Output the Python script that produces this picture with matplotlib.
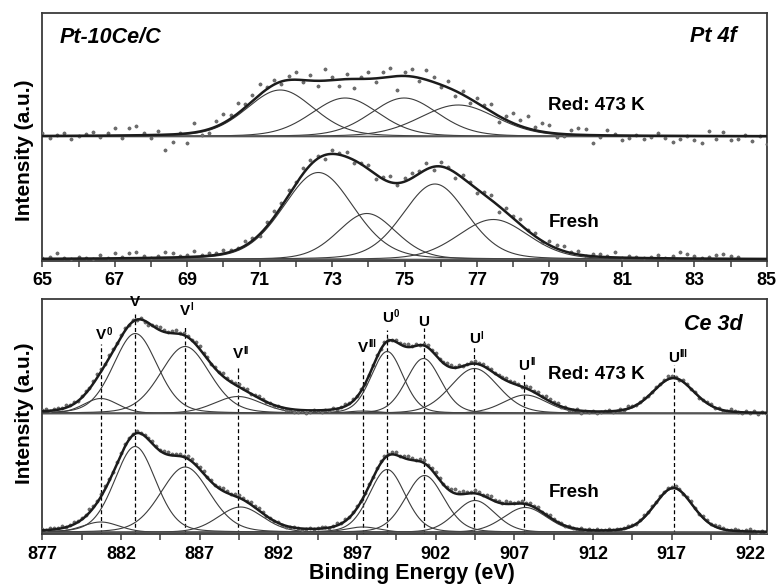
import numpy as np
import matplotlib.pyplot as plt

plt.rcParams['font.family'] = ['Liberation Sans', 'DejaVu Sans']
plt.rcParams['font.weight'] = 'bold'

## Pt 4f fitted components: centre (eV), height (a.u.), FWHM (eV)
pt_red_pos = [71.57, 73.36, 74.99, 76.48]
pt_red_h = [46.5, 38.5, 38.5, 31.5]
pt_red_fwhm = [2.2, 2.2, 2.2, 2.5]

pt_fresh_pos = [72.62, 73.96, 75.84, 77.45]
pt_fresh_h = [87.0, 46.0, 75.5, 40.0]
pt_fresh_fwhm = [2.3, 1.9, 2.1, 2.3]

# measured points, deviation from the fit (a.u.), 0.2 eV steps from 65 eV
pt_red_dev = [3, -2, 1, 3, -3, 0, 2, 4, -1, 3, 8, -3, 7, 9, 2, -3, 4, -15, -8, 1, -10, 9, -4,
              -4, 5, 9, 4, 10, 3, 6, 11, 2, 5,
              -3, 4, 8, -2, 6, -5, 12, 3, -6, 5, -9, 2, 7, -4, 6, 9, -14, 4, 8, -3, 10, 5, -2, 7, -5, 3,
              -4, 5, 2, 8, -6, 4, 10, 6, 12, 3, 9, 8,
              -3, -2, 4, 7, 6, -8, -2, 5, 1, -4, -2, 1, -3, -1, 3, -2, -6, -3, 0, -4, -7, 5, -3, 4, -4,
              -3, 1, -5, 0, -8]
pt_fresh_dev = [1, 2, 6, 1, 0, 2, 1, 0, 3, 0, 5, 1, 5, 6, 2, 0, 2, 6, 4, 1, 2, 6, 1, 3, 2,
                4, 2, 1, 5, 3, -2, 4, 6, 3, 5,
                2, 6, 5, 3, -4, 4, 2, 5, -3, 1, 4, -5, 2, 6, -2, 4, 5, 3, 6, -3, 4, 2, -5, 3,
                1, -4, 3, 5, -6, 4, 2, 6, 1, 3, -1, 4,
                3, 5, 1, 4, 0, 2, 3, 1, 5, 0, 2, 1, 0, 1, 3, 0, 2, 6, 4, 3, 1, 2, 4, 5, 3, 2]

## Ce 3d fitted components
ce_main = ['V', 'V', 'V', 'V', 'V', 'U', 'U', 'U', 'U', 'U']
ce_sup = ['0', '', 'I', 'II', 'III', '0', '', 'I', 'II', 'III']
ce_line_pos = [880.72, 882.91, 886.08, 889.44, 897.37, 898.92, 901.23, 904.47, 907.62, 917.12]

ce_red_pos = [880.72, 882.91, 886.08, 889.44, 897.37, 898.92, 901.23, 904.47, 907.7, 917.12]
ce_red_h = [15, 80, 67, 17, 2.5, 62, 55, 45, 18.5, 35]
ce_red_fwhm = [2.6, 3.3, 3.7, 3.6, 2.5, 2.4, 2.6, 3.6, 3.3, 3.1]

ce_fresh_pos = [880.72, 882.9, 886.08, 889.6, 897.37, 898.92, 901.3, 904.5, 907.7, 917.12]
ce_fresh_h = [10.5, 86, 65.5, 25.5, 5.5, 63, 57, 32, 25, 44]
ce_fresh_fwhm = [2.8, 3.1, 3.7, 3.4, 2.6, 2.7, 2.9, 3.0, 3.3, 2.9]

# measured points, deviation from the fit, 0.25 eV steps from 877 eV
ce_red_dev = [1, 2, 0, 1, 2, 1, 3, 1, 2, 0, 2, 3, 1, 2, 3, 2, 1, 3, 2, 1,
              2, 3, 1, 2, 0, 1, -1, -2, 1, 2, 3, 2, 1, 2, 3, 1, 2, 1, 0, 2,
              3, 1, 2, 0, 2, 1, 3, 2, 1, 2, 3, 1, 2, 0, 1, 2, 1, 0, 1, -1,
              0, -1, -2, -1, -3, -2, -1, -3, -2, 0, -1, -2, 0, -1, 1, 0, 1, 2, 1, 2,
              1, 2, 0, 1, 2, 3, 1, 2, 1, 0, 2, 1, 2, 3, 1, 2, 0, 1, 2, 1,
              2, 0, 1, 3, 2, 1, 2, 0, 1, 2, 3, 1, 2, 1, 2, 0, 1, 2, 3, 1,
              2, 1, 0, 2, 3, 1, 2, 1, 3, 2, 1, 2, 0, 1, -1, 0, 1, -2, 0, -1,
              0, -2, -1, 0, 1, -1, 0, 1, 0, 2, 1, 0, 1, 2, 0, 1, 2, 1, 2, 3,
              2, 1, 0, 2, 1, 0, 1, -1, 0, 1, 2, 0, 1, -1, 0, 2, 1, 0, -1, 1,
              0, 2, -1, 1, 0]
ce_fresh_dev = [1, 0, 2, 1, 1, 2, 0, 1, 2, 1, 2, 1, 3, 2, 1, 2, 3, 2, 1, 2,
                2, 3, 2, 1, 2, 0, 1, 2, 3, 2, 1, 2, 3, 1, 2, 2, 1, 3, 2, 1,
                2, 3, 1, 2, 1, 2, 3, 2, 1, 2, 3, 2, 1, 2, 1, 2, 1, 0, 1, 0,
                1, 0, -1, 0, 1, 0, -1, 0, 1, 0, 1, 2, 1, 0, 1, 2, 1, 2, 1, 2,
                2, 1, 2, 3, 1, 2, 3, 2, 1, 2, 3, 1, 2, 3, 2, 1, 2, 3, 1, 2,
                3, 2, 1, 2, 3, 4, 2, 3, 2, 1, 3, 2, 1, 2, 3, 1, 2, 1, 3, 2,
                1, 2, 3, 1, 2, 1, 2, 0, 1, 2, 1, 0, 1, 0, 1, 0, 0, 1, 0, 1,
                0, 1, 0, 0, 1, 0, 1, 0, 1, 2, 1, 0, 1, 2, 1, 2, 1, 2, 1, 2,
                1, 2, 1, 0, 1, 2, 1, 0, 2, 1, 0, 1, 2, 1, 0, 1, 2, 1, 0, 1,
                2, 1, 0, 1, 0]

# vertical offsets of the stacked spectra
pt_red_base, pt_fresh_base = 124.5, 1.5
ce_red_base, ce_fresh_base = 120.0, 1.0


def peak(x, c, h, w, m=0.2):
    d2 = ((x - c) / w) ** 2
    return h * ((1 - m) * np.exp(-4 * np.log(2) * d2) + m / (1 + 4 * d2))


def draw_spectrum(ax, x, pos, hts, fwhm, base, xd, dev):
    env = np.zeros_like(x)
    for c, h, w in zip(pos, hts, fwhm):
        comp = peak(x, c, h, w)
        env += comp
        ax.plot(x, base + comp, color='#3c3c3c', lw=0.8, zorder=2)
    ax.plot(x, base + np.zeros_like(x), color='#555555', lw=1.2, zorder=2)
    fit_d = np.zeros_like(xd)
    for c, h, w in zip(pos, hts, fwhm):
        fit_d += peak(xd, c, h, w)
    ax.plot(xd, base + fit_d + np.array(dev), 'o', ms=2.3, color='#707070',
            mec='#555555', mew=0.4, zorder=3)
    ax.plot(x, base + env, color='#1c1c1c', lw=1.8, zorder=4)


W, H = 777, 585
fig = plt.figure(figsize=(W / 100, H / 100), dpi=100)


def px_ax(l, t, r, b):
    return fig.add_axes([l / W, 1 - b / H, (r - l) / W, (b - t) / H])


def ftext(x, y, s, **kw):
    fig.text(x / W, 1 - y / H, s, **kw)


ax1 = px_ax(42.3, 13.3, 766.8, 261)
ax2 = px_ax(42.3, 298.5, 766.8, 533.5)

# ---- Pt 4f
x1 = np.linspace(65, 85, 2001)
xd_red = 65 + 0.2 * np.arange(len(pt_red_dev))
xd_fresh = 65 + 0.2 * np.arange(len(pt_fresh_dev))
draw_spectrum(ax1, x1, pt_red_pos, pt_red_h, pt_red_fwhm, pt_red_base, xd_red, pt_red_dev)
draw_spectrum(ax1, x1, pt_fresh_pos, pt_fresh_h, pt_fresh_fwhm, pt_fresh_base, xd_fresh, pt_fresh_dev)
ax1.set_xlim(65, 85)
ax1.set_ylim(0, 247.7)
ax1.set_xticks(np.arange(65, 86, 2))
ax1.set_xticks(np.arange(66, 85, 2), minor=True)

# ---- Ce 3d
x2 = np.linspace(877, 923, 4601)
xd2r = 877 + 0.25 * np.arange(len(ce_red_dev))
xd2f = 877 + 0.25 * np.arange(len(ce_fresh_dev))
draw_spectrum(ax2, x2, ce_red_pos, ce_red_h, ce_red_fwhm, ce_red_base, xd2r, ce_red_dev)
draw_spectrum(ax2, x2, ce_fresh_pos, ce_fresh_h, ce_fresh_fwhm, ce_fresh_base, xd2f, ce_fresh_dev)
ax2.set_xlim(877, 923.05)
ax2.set_ylim(0, 235)
ax2.set_xticks(np.arange(877, 923, 5))
ax2.set_xticks(np.arange(879.5, 923, 5), minor=True)

# dashed markers and labels
line_top = [189.5, 221.5, 206.5, 167.5, 173.5, 203.5, 205.5, 188.5, 161.5, 168.5]
label_base = [194.2, 227.5, 218.5, 175.2, 181.8, 211.8, 207.8, 190.2, 163.5, 171.8]
for e, top, yb, m, s in zip(ce_line_pos, line_top, label_base, ce_main, ce_sup):
    ax2.plot([e, e], [0, top], color='black', lw=0.9, ls=(0, (3.2, 2.2)), zorder=1)
    ax2.text(e, yb, m, ha='center', va='baseline', fontsize=11, fontweight='bold')
    if s:
        hw = 3.9 if m == 'U' else 3.6
        ax2.annotate(s, xy=(e, yb), xytext=(hw + 0.4, 3.3), textcoords='offset points',
                     ha='left', va='baseline', fontsize=7, fontweight='bold')

for ax in (ax1, ax2):
    ax.set_yticks([])
    for sp in ax.spines.values():
        sp.set_color('#3a3a3a')
        sp.set_linewidth(1.3)
    ax.tick_params(axis='x', which='both', direction='out', length=4, width=1.1,
                   color='#3a3a3a', labelsize=13)
    for lab in ax.get_xticklabels():
        lab.set_fontweight('bold')
ax1.tick_params(axis='x', pad=4)
ax2.tick_params(axis='x', pad=5)

# texts
ftext(59.3, 43.3, 'Pt-10Ce/C', fontsize=15.5, style='italic', fontweight='bold', va='baseline')
ftext(736.7, 41.7, 'Pt 4f', fontsize=15.5, style='italic', fontweight='bold', va='baseline', ha='right')
ftext(548.3, 110.3, 'Red: 473 K', fontsize=13.5, va='baseline')
ftext(548.3, 227, 'Fresh', fontsize=13.5, va='baseline')
ftext(742.7, 330, 'Ce 3d', fontsize=15.5, style='italic', fontweight='bold', va='baseline', ha='right')
ftext(548.3, 379, 'Red: 473 K', fontsize=13.5, va='baseline')
ftext(548.3, 496.7, 'Fresh', fontsize=13.5, va='baseline')
ftext(24, 150, 'Intensity (a.u.)', fontsize=15, rotation=90, ha='center', va='center')
ftext(24, 413, 'Intensity (a.u.)', fontsize=15, rotation=90, ha='center', va='center')
ftext(412, 579, 'Binding Energy (eV)', fontsize=15.5, ha='center', va='baseline')

fig.savefig('out.png', dpi=100)
